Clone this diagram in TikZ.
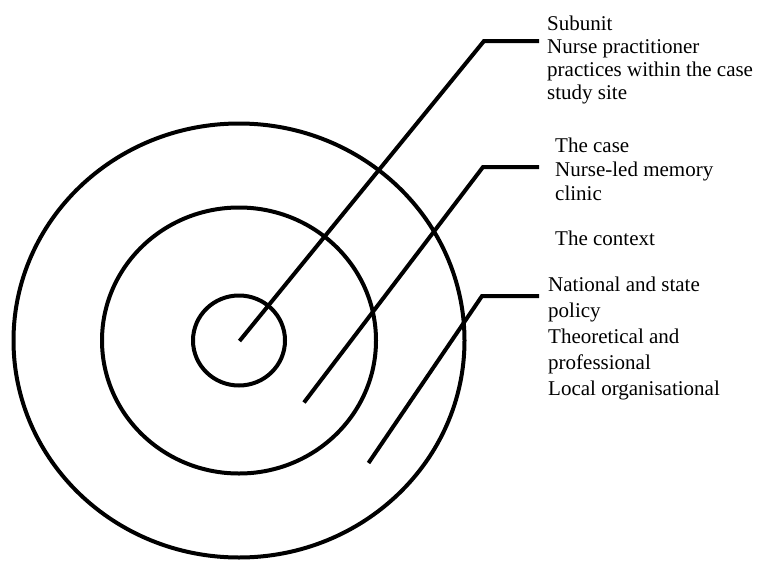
\documentclass[tikz,border=0pt]{standalone}
\usepackage{fontspec}
\setmainfont{Liberation Serif}
\usetikzlibrary{shapes.geometric}

\begin{document}
\begin{tikzpicture}[
x=1pt, y=-1pt,
ring/.style={draw, ellipse, line width=4pt, inner sep=0pt},
leader/.style={line width=4pt},
lbl/.style={anchor=base west, align=left, inner sep=0pt, font=\fontsize{21}{23}\selectfont}
]
\useasboundingbox (0,0) rectangle (757,562);
\coordinate (mid) at (239,340.5);

% the three rings
\node[ring, minimum width=92pt, minimum height=90pt] (subring) at (mid) {};
\node[ring, minimum width=274pt, minimum height=266pt] (casering) at (mid) {};
\node[ring, minimum width=451pt, minimum height=434pt] (contextring) at (mid) {};

% leader lines
\coordinate (p1) at (239.5,341);
\coordinate (k1) at (484,41);
\coordinate (e1) at (539,41);
\coordinate (p2) at (304,402.5);
\coordinate (k2) at (483,167);
\coordinate (e2) at (539,167);
\coordinate (p3) at (368.5,463);
\coordinate (k3) at (482,296);
\coordinate (e3) at (539,296);
\draw[leader] (p1) -- (k1) -- (e1);
\draw[leader] (p2) -- (k2) -- (e2);
\draw[leader] (p3) -- (k3) -- (e3);

% labels (base = baseline of the last line)
\node[lbl] (subunit) at (547,99.5) {Subunit\\Nurse practitioner\\practices within the case\\study site};
\node[lbl, font=\fontsize{21}{24}\selectfont] (thecase) at (555,200.7) {The case\\Nurse-led memory\\clinic};
\node[lbl] (context) at (555,245) {The context};
\node[lbl, font=\fontsize{21}{26}\selectfont] (policy) at (548,395) {National and state\\policy\\Theoretical and\\professional\\Local organisational};
\end{tikzpicture}
\end{document}
